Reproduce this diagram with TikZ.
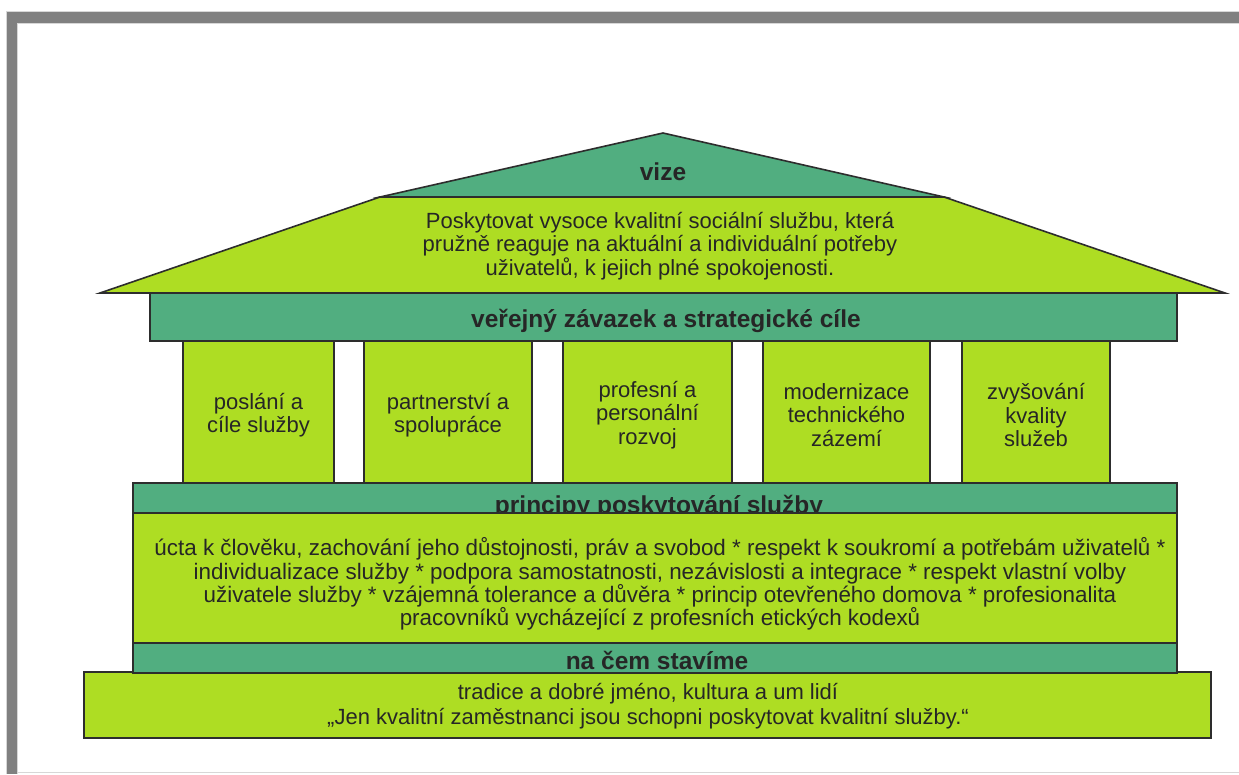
\documentclass[tikz,border=0pt]{standalone}
\usepackage{fontspec}
\setmainfont{Liberation Sans}
\definecolor{lgreen}{RGB}{174,221,35}
\definecolor{dgreen}{RGB}{81,174,128}
\definecolor{ink}{RGB}{38,38,38}
\definecolor{edge}{RGB}{45,45,45}
\definecolor{framegray}{RGB}{128,128,128}
\definecolor{faint}{RGB}{215,215,215}
\begin{document}
\begin{tikzpicture}[x=1pt,y=-1pt,
  light/.style={fill=lgreen,draw=edge,line width=1.6pt,line join=miter},
  dark/.style={fill=dgreen,draw=edge,line width=1.6pt,line join=miter},
  body/.style={text=ink,font=\fontsize{22}{23.5}\selectfont,align=center,inner sep=0pt},
  widebody/.style={text=ink,font=\fontsize{22.4}{23.4}\selectfont,align=center,inner sep=0pt},
  head/.style={text=ink,font=\bfseries\fontsize{24.5}{27}\selectfont,inner sep=0pt,anchor=base}]
\useasboundingbox (0,0) rectangle (1239,774);
\fill[white] (0,0) rectangle (1239,774);
% frame
\fill[framegray] (6,12) rectangle (1239,23);
\fill[framegray] (6,12) rectangle (17,774);
\draw[faint,line width=0.8pt] (17,774) -- (17,23.4) -- (1239,23.4);
\draw[faint,line width=0.8pt] (6,774) -- (6,11.6) -- (1239,11.6);
\draw[faint,line width=1pt] (17,772.5) -- (1239,772.5);
% roof
\draw[light] (100,293) -- (380,197) -- (944,197) -- (1225,293) -- cycle;
\draw[dark] (380,197) -- (663,133) -- (944,197) -- cycle;
\node[head] (vize) at (663,180) {vize};
\node[body] (vizetext) at (660,246) {Poskytovat vysoce kvalitní sociální službu, která\\pružně reaguje na aktuální a individuální potřeby\\uživatelů, k jejich plné spokojenosti.};
% beam
\draw[dark] (150,293) rectangle (1177,341);
\node[head] (zavazek) at (666,327) {veřejný závazek a strategické cíle};
% columns
\draw[light] (183,341) rectangle (334,483);
\draw[light] (364,341) rectangle (532,483);
\draw[light] (563,341) rectangle (732,483);
\draw[light] (763,341) rectangle (930,483);
\draw[light] (962,341) rectangle (1110,483);
\node[body] (c1) at (258.5,415) {poslání a\\cíle služby};
\node[body] (c2) at (448,415) {partnerství a\\spolupráce};
\node[body] (c3) at (647.5,415) {profesní a\\personální\\rozvoj};
\node[body] (c4) at (846.5,415) {modernizace\\technického\\zázemí};
\node[body] (c5) at (1036,415) {zvyšování\\kvality\\služeb};
% principles
\draw[dark] (133,483) rectangle (1177,513);
\node[head] (principy) at (659,513) {principy poskytování služby};
\draw[light] (133,513) rectangle (1177,643);
\node[widebody] (ptext) at (660,584) {úcta k člověku, zachování jeho důstojnosti, práv a svobod * respekt k soukromí a potřebám uživatelů *\\individualizace služby * podpora samostatnosti, nezávislosti a integrace * respekt vlastní volby\\uživatele služby * vzájemná tolerance a důvěra * princip otevřeného domova * profesionalita\\pracovníků vycházející z profesních etických kodexů};
% foundation
\draw[light] (84,672) rectangle (1211,738);
\draw[dark] (133,643) rectangle (1177,673);
\node[head] (stavime) at (657,669) {na čem stavíme};
\node[body,font=\fontsize{22}{25}\selectfont] (ftext) at (648,706) {tradice a dobré jméno, kultura a um lidí\\„Jen kvalitní zaměstnanci jsou schopni poskytovat kvalitní služby.“};
\end{tikzpicture}
\end{document}
